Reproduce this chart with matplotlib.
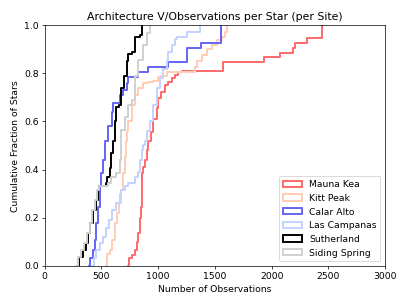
import matplotlib
matplotlib.use("Agg")
import matplotlib.pyplot as plt
from matplotlib.patches import Patch

plt.rcParams["font.size"] = 10.5

# cumulative fraction of stars vs number of observations
sites = ["Mauna Kea", "Kitt Peak", "Calar Alto", "Las Campanas", "Sutherland", "Siding Spring"]
colors = ["#ff6a6a", "#ffcdb5", "#6464f5", "#c3d3ff", "black", "#d0d0d0"]

mk_x = [738, 741, 765, 794, 809, 823, 838, 847, 853, 859, 867, 882, 897, 911, 935, 956, 985,
        1000, 1029, 1059, 1088, 1118, 1147, 1176, 1206, 1574, 1930, 2074, 2191, 2206, 2309, 2441]
mk_y = [0.0, 0.03, 0.045, 0.065, 0.10, 0.135, 0.197, 0.246, 0.343, 0.385, 0.41, 0.44, 0.48, 0.52,
        0.557, 0.612, 0.654, 0.696, 0.724, 0.75, 0.765, 0.78, 0.793, 0.807, 0.808, 0.846, 0.867,
        0.886, 0.907, 0.925, 0.946, 1.0]

kp_x = [540, 550, 574, 597, 618, 638, 656, 676, 691, 706, 715, 725, 735, 765, 794, 823, 867,
        911, 956, 1000, 1029, 1074, 1324, 1338, 1383, 1427, 1471, 1515, 1559, 1588, 1603]
kp_y = [0.0, 0.05, 0.065, 0.107, 0.177, 0.22, 0.26, 0.315, 0.385, 0.454, 0.52, 0.56, 0.6, 0.67,
        0.71, 0.74, 0.76, 0.765, 0.77, 0.786, 0.79, 0.807, 0.828, 0.85, 0.877, 0.9, 0.92, 0.94,
        0.953, 0.974, 1.0]

ca_x = [393, 403, 421, 441, 456, 470, 485, 500, 515, 529, 560, 590, 603, 662, 691, 721, 735,
        820, 909, 1085, 1255, 1374, 1550]
ca_y = [0.0, 0.03, 0.065, 0.107, 0.177, 0.246, 0.33, 0.385, 0.44, 0.52, 0.58, 0.64, 0.675,
        0.71, 0.73, 0.76, 0.786, 0.807, 0.828, 0.847, 0.905, 0.928, 1.0]

lc_x = [425, 432, 456, 485, 515, 544, 567, 597, 632, 662, 676, 706, 735, 794, 823, 838, 853,
        867, 888, 897, 926, 956, 985, 1015, 1044, 1074, 1088, 1118, 1147, 1162, 1250, 1370]
lc_y = [0.0, 0.03, 0.065, 0.093, 0.12, 0.156, 0.19, 0.232, 0.26, 0.30, 0.315, 0.33, 0.345,
        0.37, 0.39, 0.44, 0.48, 0.50, 0.52, 0.56, 0.6, 0.67, 0.74, 0.78, 0.82, 0.85, 0.89, 0.92,
        0.945, 0.953, 0.974, 1.0]

su_x = [285, 303, 338, 362, 382, 403, 421, 450, 470, 479, 538, 550, 574, 588, 603, 618, 632,
        656, 676, 697, 721, 735, 767, 794, 838, 853]
su_y = [0.0, 0.037, 0.065, 0.094, 0.136, 0.178, 0.232, 0.274, 0.315, 0.33, 0.343, 0.37,
        0.407, 0.47, 0.52, 0.60, 0.66, 0.668, 0.74, 0.79, 0.85, 0.88, 0.89, 0.95, 0.96, 1.0]

ss_x = [272, 292, 320, 350, 372, 395, 415, 440, 462, 480, 559, 588, 632, 662, 676, 706, 735,
        765, 794, 823, 867, 897, 926]
ss_y = [0.0, 0.037, 0.065, 0.094, 0.136, 0.178, 0.232, 0.274, 0.315, 0.33, 0.345, 0.37,
        0.385, 0.44, 0.565, 0.62, 0.67, 0.69, 0.79, 0.857, 0.92, 0.97, 1.0]

curves = [(mk_x, mk_y), (kp_x, kp_y), (ca_x, ca_y), (lc_x, lc_y), (su_x, su_y), (ss_x, ss_y)]

fig, ax = plt.subplots(figsize=(6.4, 4.8), dpi=63.6)
fig.subplots_adjust(left=0.11, right=0.946, top=0.916, bottom=0.129)

handles = []
for name, c, (x, y) in zip(sites, colors, curves):
    ax.step(x, y, where="post", color=c, lw=2.2)
    handles.append(Patch(facecolor="none", edgecolor=c, lw=2.2, label=name))

ax.set_xlim(0, 3000)
ax.set_ylim(0, 1.0)
ax.set_xlabel("Number of Observations")
ax.set_ylabel("Cumulative Fraction of Stars")
ax.set_title("Architecture V/Observations per Star (per Site)", fontsize=12.4)
ax.legend(handles=handles, loc="lower right")

fig.savefig("out.png", dpi=63.6)
